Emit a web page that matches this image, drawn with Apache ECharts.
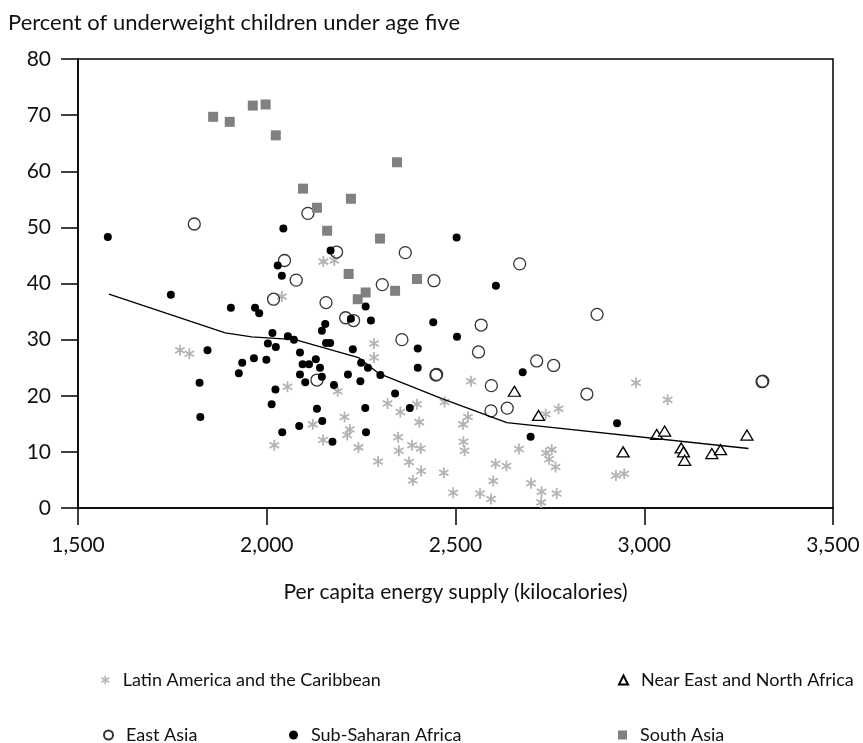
<!DOCTYPE html>
<html><head><meta charset="utf-8">
<script src="https://cdn.jsdelivr.net/npm/echarts@6/dist/echarts.min.js"></script>
<style>html,body{margin:0;padding:0;background:#fff}#c{width:863px;height:743px}</style>
</head><body><div id="c"></div>
<script>
const xTicks = [1500, 2000, 2500, 3000, 3500];
const yTicks = [0, 10, 20, 30, 40, 50, 60, 70, 80];
const seriesNames = ['Latin America and the Caribbean','Near East and North Africa','East Asia','Sub-Saharan Africa','South Asia'];

const latinAmerica = [[2150,43.9],[2179,44.1],[2040,37.7],[1770,28.1],[1795,27.5],[2055,21.6],[2020,11.2],[2284,29.3],[2284,26.8],[2188,20.8],[2320,18.6],[2354,17.1],[2398,18.5],[2471,18.9],[2206,16.2],[2404,15.3],[2533,16.2],[2520,14.9],[2122,14.9],[2220,14.0],[2213,13.0],[2149,12.1],[2243,10.8],[2348,12.6],[2350,10.2],[2385,11.2],[2408,10.6],[2521,11.8],[2524,10.2],[2295,8.3],[2377,8.2],[2409,6.6],[2387,4.9],[2469,6.3],[2494,2.7],[2541,22.6],[2978,22.3],[2739,16.7],[2773,17.7],[2668,10.5],[2740,9.8],[2755,10.4],[2748,8.7],[2765,7.3],[2606,7.9],[2635,7.5],[2925,5.8],[2947,6.1],[2600,4.8],[2700,4.4],[2728,2.9],[2768,2.6],[2565,2.6],[2594,1.6],[2727,1.0],[3062,19.3]];
const nearEast = [[2656,20.8],[2720,16.5],[2944,10.0],[3033,13.1],[3054,13.7],[3098,10.7],[3104,10.0],[3107,8.5],[3179,9.7],[3202,10.4],[3272,13.0]];
const eastAsia = [[1808,50.6],[2109,52.5],[2047,44.1],[2185,45.6],[2367,45.5],[2078,40.6],[2306,39.8],[2443,40.5],[2670,43.5],[2018,37.2],[2157,36.6],[2209,33.9],[2230,33.4],[2358,30.0],[2568,32.6],[2875,34.5],[2561,27.8],[2715,26.2],[2760,25.4],[2448,23.7],[2450,23.8],[2133,22.8],[2595,21.8],[2848,20.3],[2594,17.3],[2637,17.8],[3312,22.5],[3314,22.6]];
const subSaharan = [[1579,48.3],[2044,49.8],[2029,43.2],[2040,41.4],[2169,45.9],[2503,48.2],[2607,39.6],[1746,38.0],[1905,35.7],[1969,35.7],[1980,34.7],[2015,31.2],[2003,29.3],[2024,28.7],[1843,28.1],[1966,26.7],[1999,26.4],[1935,25.9],[1926,24.0],[1822,22.3],[2023,21.1],[2013,18.5],[1824,16.2],[2041,13.5],[2262,35.9],[2276,33.4],[2155,32.8],[2146,31.6],[2223,33.7],[2441,33.1],[2504,30.5],[2056,30.6],[2072,30.0],[2157,29.4],[2168,29.4],[2228,28.3],[2400,28.4],[2088,27.7],[2130,26.5],[2250,25.9],[2095,25.6],[2112,25.6],[2141,25.0],[2268,25.0],[2400,25.0],[2088,23.8],[2146,23.4],[2215,23.8],[2301,23.7],[2102,22.4],[2248,22.6],[2178,21.9],[2340,20.4],[2379,17.8],[2133,17.7],[2261,17.8],[2147,15.5],[2086,14.6],[2263,13.5],[2174,11.8],[2678,24.2],[2928,15.1],[2699,12.7]];
const southAsia = [[1858,69.7],[1902,68.8],[1963,71.7],[1997,71.9],[2024,66.4],[2345,61.6],[2096,56.9],[2223,55.1],[2133,53.5],[2160,49.4],[2300,48.0],[2217,41.7],[2398,40.8],[2262,38.4],[2340,38.7],[2241,37.2]];
const trendLine = [[1582,38.1],[1890,31.2],[1960,30.5],[2075,30.0],[2243,26.8],[2296,24.0],[2464,19.5],[2636,15.2],[3276,10.6]];

const FONT = 'Lato';
const FS = 21;
const LEG_FS = 18;
const asterisk = 'path://M-1.6,-10L1.6,-10L1.6,10L-1.6,10Z M7.86,6.39L-9.46,-3.61L-7.86,-6.39L9.46,3.61Z M-9.46,3.61L7.86,-6.39L9.46,-3.61L-7.86,6.39Z';

const chart = echarts.init(document.getElementById('c'), null, {renderer: 'canvas'});
function fmt(v){ return v >= 1000 ? String(v).replace(/\B(?=(\d{3})+(?!\d))/g, ',') : String(v); }
const legendText = {fontFamily: FONT, fontSize: LEG_FS, color: '#111', padding: [0,0,0,8]};
function leg(name, left, top){
  return {data: [name], left: left, top: top, itemWidth: 9, itemHeight: 9, textStyle: legendText, selectedMode: false};
}
chart.setOption({
  animation: false,
  title: {text: 'Percent of underweight children under age five', left: 3, top: 7,
    textStyle: {fontFamily: FONT, fontSize: 22, fontWeight: 'normal', color: '#111'}},
  grid: {left: 78, right: 30, top: 59, bottom: 235, show: true, borderColor: '#000', borderWidth: 1.5, containLabel: false},
  legend: [
    leg(seriesNames[0], 96, 666),
    leg(seriesNames[1], 613, 666),
    leg(seriesNames[2], 98, 721),
    leg(seriesNames[3], 284, 721),
    leg(seriesNames[4], 613, 721)
  ],
  xAxis: {type: 'value', min: xTicks[0], max: xTicks[xTicks.length-1], interval: 500,
    name: 'Per capita energy supply (kilocalories)', nameLocation: 'middle', nameGap: 74,
    nameTextStyle: {fontFamily: FONT, fontSize: FS, color: '#111'},
    axisLine: {show: true, lineStyle: {color: '#000', width: 1.5}},
    axisTick: {show: true, inside: false, length: 17, lineStyle: {color: '#000', width: 1.5}},
    axisLabel: {margin: 27, fontFamily: FONT, fontSize: FS, color: '#111', formatter: fmt},
    splitLine: {show: false}},
  yAxis: {type: 'value', min: yTicks[0], max: yTicks[yTicks.length-1], interval: 10,
    axisLine: {show: true, lineStyle: {color: '#000', width: 1.5}},
    axisTick: {show: true, inside: false, length: 17, lineStyle: {color: '#000', width: 1.5}},
    axisLabel: {margin: 27, fontFamily: FONT, fontSize: FS, color: '#111'},
    splitLine: {show: false}},
  series: [
    {name: seriesNames[0], type: 'scatter', data: latinAmerica, symbol: asterisk, symbolKeepAspect: true, symbolSize: 11,
      itemStyle: {color: '#b3b3b3', opacity: 1}},
    {name: seriesNames[1], type: 'scatter', data: nearEast, symbol: 'triangle', symbolSize: [12, 10],
      itemStyle: {color: '#fff', borderColor: '#000', borderWidth: 1.3, opacity: 1}},
    {name: seriesNames[2], type: 'scatter', data: eastAsia, symbol: 'circle', symbolSize: 12,
      itemStyle: {color: 'rgba(255,255,255,0)', borderColor: '#333', borderWidth: 1.3, opacity: 1}},
    {name: seriesNames[3], type: 'scatter', data: subSaharan, symbol: 'circle', symbolSize: 8,
      itemStyle: {color: '#000', opacity: 1}},
    {name: seriesNames[4], type: 'scatter', data: southAsia, symbol: 'rect', symbolSize: 10,
      itemStyle: {color: '#808080', opacity: 1}},
    {name: 'trend', type: 'line', data: trendLine, symbol: 'none', lineStyle: {color: '#000', width: 1.3}, silent: true}
  ]
});
</script></body></html>
